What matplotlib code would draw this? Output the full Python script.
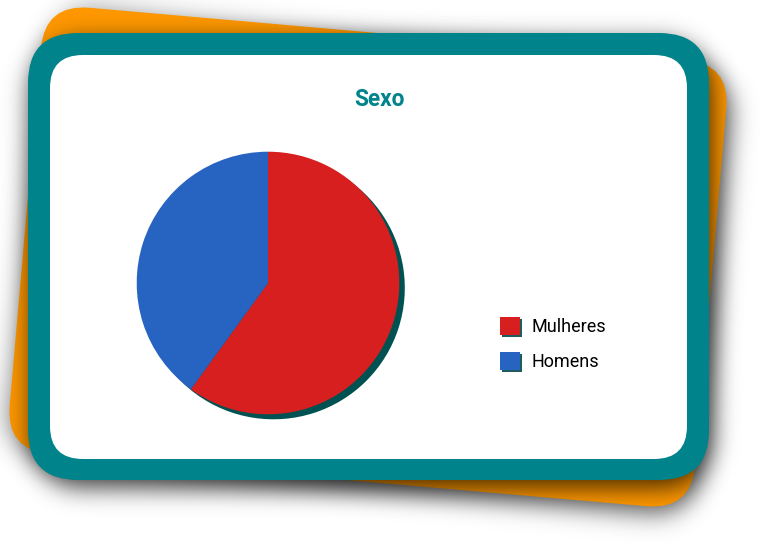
import numpy as np
import matplotlib
matplotlib.use("Agg")
import matplotlib.pyplot as plt
from matplotlib.patches import FancyBboxPatch, Patch
import matplotlib.transforms as mtransforms
import matplotlib.patheffects as pe

# ---- data ----
title = "Sexo"
categories = ["Mulheres", "Homens"]
values = [60, 40]
colors = ["#D71F1F", "#2764C2"]

TEAL = "#00838A"
ORANGE = "#FF9800"
PIE_SHADOW = "#005252"

W, H = 770, 550
fig = plt.figure(figsize=(7.7, 5.5), dpi=100)
fig.patch.set_facecolor("white")
bg = fig.add_axes([0, 0, 1, 1])
bg.set_xlim(0, W)
bg.set_ylim(H, 0)
bg.axis("off")

yy, xx = np.mgrid[0:H, 0:W] + 0.5


def rr_alpha(cx, cy, w, h, r, ang=0.0):
    t = np.deg2rad(ang)
    dx = xx - cx
    dy = yy - cy
    u = dx * np.cos(t) + dy * np.sin(t)
    v = -dx * np.sin(t) + dy * np.cos(t)
    qx = np.abs(u) - (w / 2 - r)
    qy = np.abs(v) - (h / 2 - r)
    d = np.hypot(np.maximum(qx, 0), np.maximum(qy, 0)) + np.minimum(np.maximum(qx, qy), 0) - r
    return np.clip(0.5 - d, 0, 1)


def gblur(a, s):
    def mat(n):
        i = np.arange(n)
        g = np.exp(-0.5 * ((i[:, None] - i[None, :]) / s) ** 2)
        g /= g.sum(axis=1, keepdims=True)
        return g
    return mat(a.shape[0]) @ a @ mat(a.shape[1]).T


def shadow(alpha, peak, z):
    rgba = np.zeros((H, W, 4))
    rgba[..., 3] = np.clip(alpha * peak, 0, 1)
    bg.imshow(rgba, extent=(0, W, H, 0), aspect="auto", zorder=z, interpolation="bilinear")


# orange rotated card
ocx, ocy, ow, oh, orad, oang = 368, 257, 688, 448, 45, 5.0
shadow(gblur(rr_alpha(ocx + 5, ocy + 8, ow, oh, orad, oang), 12), 0.6, 1)
otr = mtransforms.Affine2D().rotate_deg_around(ocx, ocy, oang) + bg.transData
bg.add_patch(FancyBboxPatch((ocx - ow / 2, ocy - oh / 2), ow, oh,
                            boxstyle=f"round,pad=0,rounding_size={orad}",
                            fc=ORANGE, ec="none", transform=otr, zorder=2))

# teal card
tx0, ty0, tx1, ty1, trad = 28, 33, 709, 480, 50
shadow(gblur(rr_alpha((tx0 + tx1) / 2 + 3, (ty0 + ty1) / 2 + 8, tx1 - tx0, ty1 - ty0, trad), 12), 0.72, 3)
bg.add_patch(FancyBboxPatch((tx0, ty0), tx1 - tx0, ty1 - ty0,
                            boxstyle=f"round,pad=0,rounding_size={trad}",
                            fc=TEAL, ec="none", zorder=4))
# white inner
wx0, wy0, wx1, wy1, wrad = 50, 55, 687, 459, 33
bg.add_patch(FancyBboxPatch((wx0, wy0), wx1 - wx0, wy1 - wy0,
                            boxstyle=f"round,pad=0,rounding_size={wrad}",
                            fc="white", ec="none", zorder=5))

bg.set_xlim(0, W)
bg.set_ylim(H, 0)

bg.text(379, 105.5, title, ha="center", va="baseline", fontsize=16.3,
        fontweight="bold", color=TEAL, family=["Roboto", "DejaVu Sans"], zorder=6)

# pie
pcx, pcy, prad = 268, 283, 131.3
half = 145
pax = fig.add_axes([(pcx - half) / W, 1 - (pcy + half) / H, 2 * half / W, 2 * half / H])
pax.patch.set_visible(False)
pax.pie(values, colors=[PIE_SHADOW] * len(values), startangle=90, counterclock=False,
        center=(5.5 / prad, -5.0 / prad), wedgeprops=dict(linewidth=0))
pax.pie(values, colors=colors, startangle=90, counterclock=False,
        wedgeprops=dict(linewidth=0))
L = half / prad
pax.set_xlim(-L, L)
pax.set_ylim(-L, L)
pax.axis("off")

# legend
handles = [Patch(facecolor=c, edgecolor="none",
                 path_effects=[pe.SimplePatchShadow(offset=(1.5, -1.5), shadow_rgbFace="#1f5c5c", alpha=1),
                               pe.Normal()]) for c in colors]
fig.legend(handles, categories, loc="center left", bbox_to_anchor=(500 / W, 1 - 344 / H),
           frameon=False, borderpad=0, borderaxespad=0,
           handlelength=1.12, handleheight=1.12, handletextpad=0.62, labelspacing=0.9,
           prop={"family": "Roboto", "size": 13})

fig.savefig("out.png", dpi=100, facecolor="white")
